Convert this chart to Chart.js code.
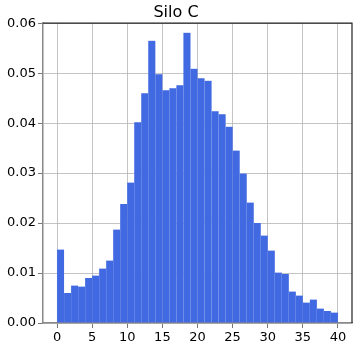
<!DOCTYPE html>
<html>
<head>
<meta charset="utf-8">
<script src="https://cdn.jsdelivr.net/npm/chart.js@4/dist/chart.umd.min.js"></script>
<style>
  html, body { margin: 0; padding: 0; background: #fff; }
  #wrap { width: 357px; height: 349px; }
</style>
</head>
<body>
<div id="wrap"><canvas id="chartCanvas"></canvas></div>
<script>
// Histogram bins: left edge of each bin (width 1)
const binLeft = [0, 1, 2, 3, 4, 5, 6, 7, 8, 9,
                 10, 11, 12, 13, 14, 15, 16, 17, 18, 19,
                 20, 21, 22, 23, 24, 25, 26, 27, 28, 29,
                 30, 31, 32, 33, 34, 35, 36, 37, 38, 39];

// Density per bin
const density = [0.0147, 0.0060, 0.0075, 0.0073, 0.0090, 0.0095, 0.0109, 0.0125, 0.0187, 0.0238,
                 0.0281, 0.0402, 0.0460, 0.0565, 0.0498, 0.0466, 0.0470, 0.0476, 0.0581, 0.0509,
                 0.0490, 0.0485, 0.0424, 0.0418, 0.0393, 0.0345, 0.0299, 0.0241, 0.0200, 0.0175,
                 0.0145, 0.0101, 0.0098, 0.0063, 0.0055, 0.0041, 0.0047, 0.0029, 0.0024, 0.0021];

const binWidth = 1;
const xTicks = [0, 5, 10, 15, 20, 25, 30, 35, 40];
const yTicks = [0, 0.01, 0.02, 0.03, 0.04, 0.05, 0.06];
const title = "Silo C";

const FONT = "'DejaVu Sans', sans-serif";
const gridColor = 'rgba(176,176,176,0.75)';

// draws the top and right spines (Chart.js only has the axis borders)
const frame = {
    id: 'frame',
    afterDraw(chart) {
        const { ctx, chartArea: a } = chart;
        ctx.save();
        ctx.strokeStyle = '#222';
        ctx.lineWidth = 1.2;
        ctx.beginPath();
        ctx.moveTo(a.left, a.top);
        ctx.lineTo(a.right, a.top);
        ctx.lineTo(a.right, a.bottom);
        ctx.stroke();
        ctx.restore();
    }
};

const ctx = document.getElementById('chartCanvas').getContext('2d');
new Chart(ctx, {
    type: 'bar',
    data: {
        datasets: [{
            label: title,
            data: binLeft.map((l, i) => ({ x: l + binWidth / 2, y: density[i] })),
            backgroundColor: '#4169E1',
            borderColor: 'rgba(110,140,232,0.5)',
            borderWidth: { left: 0.4, right: 0.4, top: 0, bottom: 0 },
            barPercentage: 1.0,
            categoryPercentage: 1.0,
            grouped: false
        }]
    },
    options: {
        responsive: true,
        maintainAspectRatio: false,
        animation: false,
        layout: { padding: { left: 0, right: 5, top: 0, bottom: 0 } },
        plugins: {
            legend: { display: false },
            tooltip: { enabled: false },
            title: {
                display: true,
                text: title,
                color: '#000',
                font: { family: FONT, size: 16, weight: 'normal' },
                padding: { top: 3, bottom: 1 }
            }
        },
        scales: {
            x: {
                type: 'linear',
                min: -2,
                max: 42,
                offset: false,
                z: 1,
                afterBuildTicks: s => { s.ticks = xTicks.map(v => ({ value: v })); },
                afterFit: s => { s.height = 26; },
                ticks: {
                    color: '#000',
                    font: { family: FONT, size: 13 },
                    padding: 2,
                    maxRotation: 0,
                    callback: v => String(v)
                },
                grid: { offset: false, color: gridColor, lineWidth: 1, tickLength: 5, tickColor: '#777' },
                border: { display: true, color: '#888', width: 1.5 }
            },
            y: {
                min: 0,
                max: 0.06,
                z: 1,
                afterBuildTicks: s => { s.ticks = yTicks.map(v => ({ value: v })); },
                afterFit: s => { s.width = 43; },
                ticks: {
                    color: '#000',
                    font: { family: FONT, size: 13 },
                    padding: 2,
                    callback: v => v.toFixed(2)
                },
                grid: { color: gridColor, lineWidth: 1, tickLength: 5, tickColor: '#777' },
                border: { display: true, color: '#888', width: 1.5 }
            }
        }
    },
    plugins: [frame]
});
</script>
</body>
</html>
